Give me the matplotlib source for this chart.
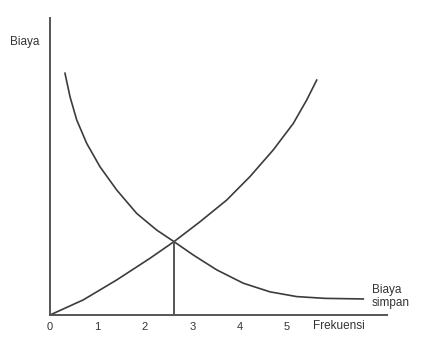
import matplotlib
matplotlib.use('Agg')
import matplotlib.pyplot as plt

plt.rcParams['font.family'] = ['Liberation Sans', 'DejaVu Sans']

# decreasing curve (biaya simpan)
x_simpan = [0.316, 0.422, 0.563, 0.774, 1.055, 1.407, 1.829, 2.251, 2.616, 3.023,
            3.517, 4.078, 4.641, 5.204, 5.802, 6.61]
y_simpan = [8.14, 7.35, 6.57, 5.78, 4.99, 4.21, 3.42, 2.86, 2.47, 2.02,
            1.52, 1.07, 0.78, 0.62, 0.56, 0.54]

# increasing curve
x_naik = [0.0, 0.703, 1.407, 2.110, 2.616, 3.165, 3.728, 4.219, 4.711, 5.133, 5.416, 5.627]
y_naik = [0.0, 0.51, 1.18, 1.91, 2.47, 3.14, 3.87, 4.66, 5.56, 6.45, 7.24, 7.91]

x_opt, y_opt = 2.616, 2.47
tick_pos = [0, 1, 2, 3, 4, 5]
tick_labels = ['0', '1', '2', '3', '4', '5']

fig = plt.figure(figsize=(4.24, 3.44), dpi=100)
ax = fig.add_axes([50/424, 1 - 315/344, 337/424, 297/344])
line_c = '#3c3c3c'
ax.plot(x_simpan, y_simpan, color=line_c, lw=1.2, solid_joinstyle='round')
ax.plot(x_naik, y_naik, color=line_c, lw=1.2, solid_joinstyle='round')
ax.plot([x_opt, x_opt], [0, y_opt], color='#555555', lw=1.4)

ax.set_xlim(0, 7.11); ax.set_ylim(0, 10)
for s in ['top', 'right']: ax.spines[s].set_visible(False)
for s in ['left', 'bottom']:
    ax.spines[s].set_color('#555555'); ax.spines[s].set_linewidth(1.4)
ax.set_xticks(tick_pos); ax.set_xticklabels(tick_labels, fontsize=8, color='#333333')
ax.tick_params(axis='x', length=0, pad=5)
ax.set_yticks([])

txt = dict(fontsize=8.5, color='#333333', clip_on=False)
ax.text(-0.23, 9.19, 'Biaya', ha='right', va='center', **txt)
ax.text(6.79, 0.61, 'Biaya\nsimpan', ha='left', va='center', linespacing=1.1, **txt)
ax.text(5.55, -0.37, 'Frekuensi', ha='left', va='center', **txt)

plt.savefig('out.png', dpi=100)
